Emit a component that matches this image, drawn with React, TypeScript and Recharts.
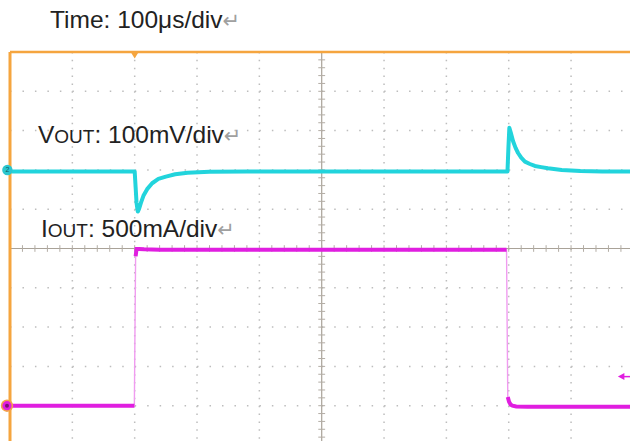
import React from 'react';
import {
  ComposedChart,
  Line,
  XAxis,
  YAxis,
  CartesianGrid,
  ReferenceLine,
  ReferenceDot,
} from 'recharts';

// ---- axis layout (oscilloscope: 10 x 10 divisions) ----
const TIME_DOMAIN_US: [number, number] = [0, 1000]; // 100 µs/div
const DIV_DOMAIN: [number, number] = [-5, 5];
const GRID_TIME_US = [100, 200, 300, 400, 600, 700, 800, 900];
const GRID_DIV = [-4, -3, -2, -1, 1, 2, 3, 4];
const CENTER_TIME_US = 500;
const CENTER_DIV = 0;
const MINOR_TIME_US = Array.from({ length: 51 }, (_, i) => i * 20);
const MINOR_DIV = Array.from({ length: 51 }, (_, i) => -5 + i * 0.2);

// ---- channel settings ----
const VOUT_MV_PER_DIV = 100;
const IOUT_MA_PER_DIV = 500;
const VOUT_POS_DIV = 1.96;
const IOUT_POS_DIV = -4;
const TRIGGER_TIME_US = 200;
const TRIGGER_LEVEL_MA = 370;

// ---- labels ----
const LABEL_TIME = 'Time: 100μs/div';
const LABEL_VOUT_MAIN = 'V';
const LABEL_VOUT_SUB = 'OUT';
const LABEL_VOUT_SCALE = ': 100mV/div';
const LABEL_IOUT_MAIN = 'I';
const LABEL_IOUT_SUB = 'OUT';
const LABEL_IOUT_SCALE = ': 500mA/div';
const RETURN_MARK = '↵';

// ---- series: VOUT (mV, AC deviation) ----
const VOUT_T_US = [
  0, 200, 201.5, 203, 205, 207, 210, 214, 220, 228,
  238, 250, 265, 285, 320, 380, 600, 798, 799.5, 801,
  804, 807, 811, 815, 820, 826, 834, 842, 852, 863,
  885, 915, 950, 1000,
];
const VOUT_MV = [
  0, 0, -40, -80, -102, -95, -80, -62, -45, -30,
  -19, -13, -7, -3, -1, 0, 0, 0, 60, 111,
  95, 77, 60, 47, 35, 25, 19, 14, 11, 8,
  4, 1, 0, 0,
];

// ---- series: IOUT (mA) ----
const IOUT_T_US = [
  0, 199.5, 200.5, 201.5, 203, 207, 215, 240, 500, 796.5,
  797.5, 798.5, 800.5, 803, 806, 812, 830, 1000,
];
const IOUT_MA = [
  0, 0, 1000, 1900, 1995, 1995, 1990, 1985, 1985, 1985,
  1000, 110, 50, 15, 0, -10, -12, -12,
];
const IOUT_FAST_EDGE = [
  false, false, true, false, false, false, false, false, false, false,
  true, false, false, false, false, false, false, false,
];

// ---- colours ----
const ORANGE = '#F5A53F';
const CYAN = '#22D4DC';
const MAGENTA = '#E01EE0';
const MAGENTA_FAINT = '#F09CF0';
const GRID_DOT = '#BDBDBD';
const CENTER_GRAY = '#A9A298';
const TICK_GRAY = '#B3ADA5';

const voutData = VOUT_T_US.map((t, i) => ({
  t,
  y: VOUT_POS_DIV + VOUT_MV[i] / VOUT_MV_PER_DIV,
}));
const ioutData = IOUT_T_US.map((t, i) => {
  const y = IOUT_POS_DIV + IOUT_MA[i] / IOUT_MA_PER_DIV;
  return { t, y, yThick: IOUT_FAST_EDGE[i] ? null : y };
});

const W = 650;
const H = 460;
const MARGIN = { top: 52, left: 10, right: 16.6, bottom: 15 };
const X_TICK_HALF = 5.5; // µs
const Y_TICK_HALF = 0.085; // div

const FONT = '"Liberation Sans", Arial, sans-serif';

export default function App() {
  return (
    <div
      style={{
        position: 'fixed',
        left: 0,
        top: 0,
        width: 630,
        height: 441,
        overflow: 'hidden',
        background: '#ffffff',
      }}
    >
      <div style={{ position: 'absolute', left: 0, top: 0 }}>
        <ComposedChart width={W} height={H} margin={MARGIN}>
          <XAxis
            xAxisId="t"
            dataKey="t"
            type="number"
            domain={TIME_DOMAIN_US}
            allowDataOverflow
            hide
          />
          <YAxis
            yAxisId="d"
            type="number"
            domain={DIV_DOMAIN}
            allowDataOverflow
            hide
          />
          {/* frame axes with minor ticks */}
          <XAxis
            xAxisId="top"
            orientation="top"
            type="number"
            domain={TIME_DOMAIN_US}
            allowDataOverflow
            ticks={MINOR_TIME_US}
            interval={0}
            mirror
            tick={false}
            tickSize={5}
            axisLine={{ stroke: ORANGE, strokeWidth: 2.5 }}
            tickLine={{ stroke: TICK_GRAY }}
          />
          <XAxis
            xAxisId="bottom"
            orientation="bottom"
            type="number"
            domain={TIME_DOMAIN_US}
            allowDataOverflow
            ticks={MINOR_TIME_US}
            interval={0}
            mirror
            tick={false}
            tickSize={5}
            axisLine={{ stroke: CENTER_GRAY }}
            tickLine={{ stroke: TICK_GRAY }}
          />
          <YAxis
            yAxisId="left"
            orientation="left"
            type="number"
            domain={DIV_DOMAIN}
            allowDataOverflow
            ticks={MINOR_DIV}
            interval={0}
            mirror
            tick={false}
            tickSize={5}
            axisLine={{ stroke: ORANGE, strokeWidth: 3 }}
            tickLine={{ stroke: TICK_GRAY }}
          />
          <YAxis
            yAxisId="right"
            orientation="right"
            type="number"
            domain={DIV_DOMAIN}
            allowDataOverflow
            ticks={MINOR_DIV}
            interval={0}
            mirror
            tick={false}
            tickSize={5}
            axisLine={{ stroke: CENTER_GRAY }}
            tickLine={{ stroke: TICK_GRAY }}
          />
          <CartesianGrid
            xAxisId="t"
            yAxisId="d"
            vertical={false}
            horizontal
            horizontalValues={GRID_DIV}
            stroke={GRID_DOT}
            strokeWidth={1.5}
            strokeDasharray="1.5 10.97"
          />
          <CartesianGrid
            xAxisId="t"
            yAxisId="d"
            horizontal={false}
            vertical
            verticalValues={GRID_TIME_US}
            stroke={GRID_DOT}
            strokeWidth={1.5}
            strokeDasharray="1.5 6.36"
          />
          <ReferenceLine xAxisId="t" yAxisId="d" x={CENTER_TIME_US} stroke={CENTER_GRAY} strokeWidth={1.2} />
          <ReferenceLine xAxisId="t" yAxisId="d" y={CENTER_DIV} stroke={CENTER_GRAY} strokeWidth={1.2} />
          {MINOR_DIV.map((v) => (
            <ReferenceLine
              key={'cy' + v}
              xAxisId="t"
              yAxisId="d"
              segment={[
                { x: CENTER_TIME_US - X_TICK_HALF, y: v },
                { x: CENTER_TIME_US + X_TICK_HALF, y: v },
              ]}
              stroke={TICK_GRAY}
            />
          ))}
          {MINOR_TIME_US.map((v) => (
            <ReferenceLine
              key={'cx' + v}
              xAxisId="t"
              yAxisId="d"
              segment={[
                { x: v, y: CENTER_DIV - Y_TICK_HALF },
                { x: v, y: CENTER_DIV + Y_TICK_HALF },
              ]}
              stroke={TICK_GRAY}
            />
          ))}
          <Line
            xAxisId="t"
            yAxisId="d"
            data={ioutData}
            dataKey="y"
            type="linear"
            stroke={MAGENTA_FAINT}
            strokeWidth={1.4}
            dot={false}
            isAnimationActive={false}
          />
          <Line
            xAxisId="t"
            yAxisId="d"
            data={ioutData}
            dataKey="yThick"
            type="linear"
            stroke={MAGENTA}
            strokeWidth={4}
            connectNulls={false}
            dot={false}
            isAnimationActive={false}
          />
          <Line
            xAxisId="t"
            yAxisId="d"
            data={voutData}
            dataKey="y"
            type="linear"
            stroke={CYAN}
            strokeWidth={4}
            strokeLinejoin="round"
            dot={false}
            isAnimationActive={false}
          />
          {/* trigger position marker */}
          <ReferenceDot
            xAxisId="t"
            yAxisId="d"
            x={TRIGGER_TIME_US}
            y={DIV_DOMAIN[1]}
            ifOverflow="visible"
            shape={(p: any) => (
              <polygon
                points={`${p.cx - 4},${p.cy} ${p.cx + 4},${p.cy} ${p.cx},${p.cy + 6.5}`}
                fill={ORANGE}
              />
            )}
          />
          {/* channel 2 ground marker */}
          <ReferenceDot
            xAxisId="t"
            yAxisId="d"
            x={TIME_DOMAIN_US[0]}
            y={VOUT_POS_DIV}
            ifOverflow="visible"
            shape={(p: any) => (
              <g>
                <circle cx={p.cx - 2.6} cy={p.cy - 1.5} r={5.2} fill="#2BC6CF" />
                <text
                  x={p.cx - 2.6}
                  y={p.cy + 1}
                  fontSize={7}
                  fontFamily={FONT}
                  fill="#0d5960"
                  textAnchor="middle"
                >
                  2
                </text>
              </g>
            )}
          />
          {/* channel 3 ground marker */}
          <ReferenceDot
            xAxisId="t"
            yAxisId="d"
            x={TIME_DOMAIN_US[0]}
            y={IOUT_POS_DIV}
            ifOverflow="visible"
            shape={(p: any) => (
              <g>
                <circle cx={p.cx - 3} cy={p.cy} r={5.4} fill={MAGENTA} stroke="#F2A24A" strokeWidth={1.6} />
                <circle cx={p.cx - 3} cy={p.cy} r={2} fill="#7a1070" />
              </g>
            )}
          />
          {/* trigger level marker */}
          <ReferenceDot
            xAxisId="t"
            yAxisId="d"
            x={TIME_DOMAIN_US[1]}
            y={IOUT_POS_DIV + TRIGGER_LEVEL_MA / IOUT_MA_PER_DIV}
            ifOverflow="visible"
            shape={(p: any) => (
              <g>
                <line x1={p.cx - 10} y1={p.cy} x2={p.cx - 2} y2={p.cy} stroke={MAGENTA} strokeWidth={1.5} />
                <polygon
                  points={`${p.cx - 15.5},${p.cy} ${p.cx - 9},${p.cy - 3.5} ${p.cx - 9},${p.cy + 3.5}`}
                  fill={MAGENTA}
                />
              </g>
            )}
          />
        </ComposedChart>
      </div>
      <svg
        width={630}
        height={441}
        style={{ position: 'absolute', left: 0, top: 0, pointerEvents: 'none' }}
      >
        <text x={50} y={28} fontSize={24.5} fontFamily={FONT} fill="#222">
          {LABEL_TIME}
          <tspan fill="#a0a0a0" fontSize={21} fontFamily="DejaVu Sans">{RETURN_MARK}</tspan>
        </text>
        <text x={38} y={143} fontSize={24.5} fontFamily={FONT} fill="#222">
          {LABEL_VOUT_MAIN}
          <tspan fontSize={19}>{LABEL_VOUT_SUB}</tspan>
          {LABEL_VOUT_SCALE}
          <tspan fill="#a0a0a0" fontSize={21} fontFamily="DejaVu Sans">{RETURN_MARK}</tspan>
        </text>
        <text x={41} y={237} fontSize={24.5} fontFamily={FONT} fill="#222">
          {LABEL_IOUT_MAIN}
          <tspan fontSize={19}>{LABEL_IOUT_SUB}</tspan>
          {LABEL_IOUT_SCALE}
          <tspan fill="#a0a0a0" fontSize={21} fontFamily="DejaVu Sans">{RETURN_MARK}</tspan>
        </text>
      </svg>
    </div>
  );
}
